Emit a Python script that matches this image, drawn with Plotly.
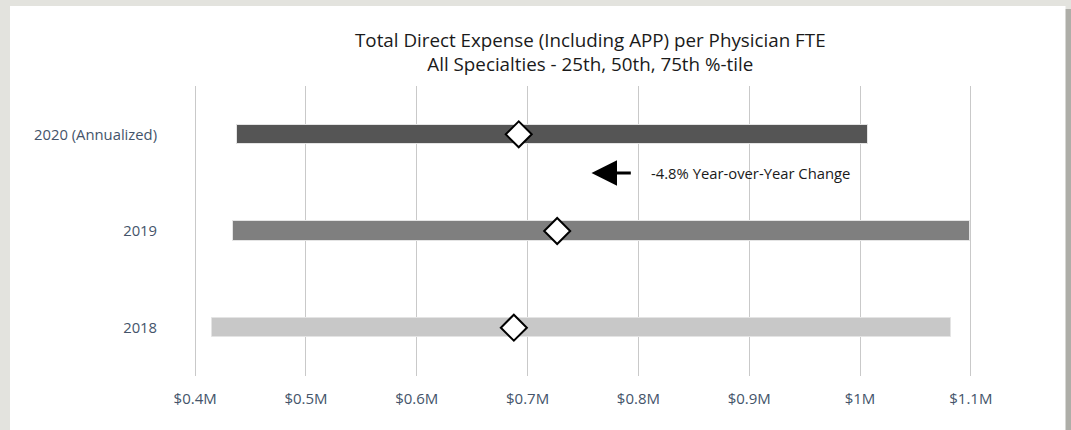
import plotly.graph_objects as go

# ---- data ----
categories = ["2018", "2019", "2020 (Annualized)"]
p25 = [415000, 434500, 437600]
p50 = [687600, 726700, 692000]
p75 = [1081700, 1099500, 1007500]
bar_colors = ["#c8c8c8", "#7f7f7f", "#555555"]
tick_vals = [400000, 500000, 600000, 700000, 800000, 900000, 1000000, 1100000]
tick_text = ["$0.4M", "$0.5M", "$0.6M", "$0.7M", "$0.8M", "$0.9M", "$1M", "$1.1M"]
yoy_text = "-4.8% Year-over-Year Change"
arrow_head_x = 757700
arrow_tail_x = 794500
arrow_y = 1.6

W, H = 1071, 430
ML, MR, MT, MB = 173, 78, 86, 54
PW, PH = W - ML - MR, H - MT - MB

def px_x(p):
    return (p - ML) / PW

def px_y(p):
    return (H - MB - p) / PH

FONT = "Open Sans"
TICK_COLOR = "#44546a"
BG = "#e3e3de"

fig = go.Figure()

fig.add_trace(go.Bar(
    y=categories,
    x=[h - l for l, h in zip(p25, p75)],
    base=p25,
    orientation="h",
    width=0.2,
    marker=dict(color=bar_colors, line=dict(color="#e4e4e4", width=1)),
    showlegend=False,
    hoverinfo="skip",
))

fig.add_trace(go.Scatter(
    y=categories,
    x=p50,
    mode="markers",
    marker=dict(symbol="diamond", size=20, color="white",
                line=dict(color="black", width=2)),
    showlegend=False,
    hoverinfo="skip",
))

# card background
fig.add_shape(type="rect", xref="paper", yref="paper",
              x0=px_x(13), x1=px_x(1071), y0=px_y(9), y1=px_y(445),
              fillcolor="#aeaea8", line=dict(width=0), layer="below")
fig.add_shape(type="rect", xref="paper", yref="paper",
              x0=px_x(10), x1=px_x(1065.5), y0=px_y(6), y1=px_y(445),
              fillcolor="white", line=dict(width=0), layer="below")

# title
fig.add_annotation(
    x=px_x(590.5), y=px_y(51.5), xref="paper", yref="paper",
    text="Total Direct Expense (Including APP) per Physician FTE<br>All Specialties - 25th, 50th, 75th %-tile",
    showarrow=False, xanchor="center", yanchor="middle",
    font=dict(family=FONT, size=18.8, color="#1a1a1a"),
)

# arrow
fig.add_annotation(
    x=arrow_head_x, y=arrow_y, ax=arrow_tail_x, ay=arrow_y,
    xref="x", yref="y", axref="x", ayref="y",
    text="", showarrow=True, arrowhead=2, arrowsize=1.7, arrowwidth=3,
    arrowcolor="black",
)
fig.add_annotation(
    x=px_x(649), y=px_y(173), xref="paper", yref="paper",
    text=yoy_text, showarrow=False, xanchor="left", yanchor="middle",
    font=dict(family=FONT, size=14.8, color="#1a1a1a"),
)

fig.update_layout(
    width=W, height=H,
    margin=dict(l=ML, r=MR, t=MT, b=MB, pad=0),
    paper_bgcolor=BG,
    plot_bgcolor="rgba(0,0,0,0)",
    bargap=0,
    font=dict(family=FONT),
    xaxis=dict(
        range=[380000, 1120000],
        tickvals=tick_vals, ticktext=tick_text,
        showgrid=True, gridcolor="#c9c9c9", gridwidth=1,
        zeroline=False, showline=False,
        ticks="outside", ticklen=9, tickcolor="rgba(0,0,0,0)",
        tickfont=dict(family=FONT, size=15, color=TICK_COLOR),
        fixedrange=True,
    ),
    yaxis=dict(
        type="category",
        categoryorder="array", categoryarray=categories,
        range=[-0.5, 2.5],
        showgrid=False, zeroline=False, showline=False,
        ticks="outside", ticklen=12, tickcolor="rgba(0,0,0,0)",
        tickfont=dict(family=FONT, size=14.8, color=TICK_COLOR),
        fixedrange=True,
    ),
)

fig.write_html(
    "out.html",
    config={"displayModeBar": False},
    post_script="document.body.style.margin='0';document.body.style.background='%s';" % BG,
)
